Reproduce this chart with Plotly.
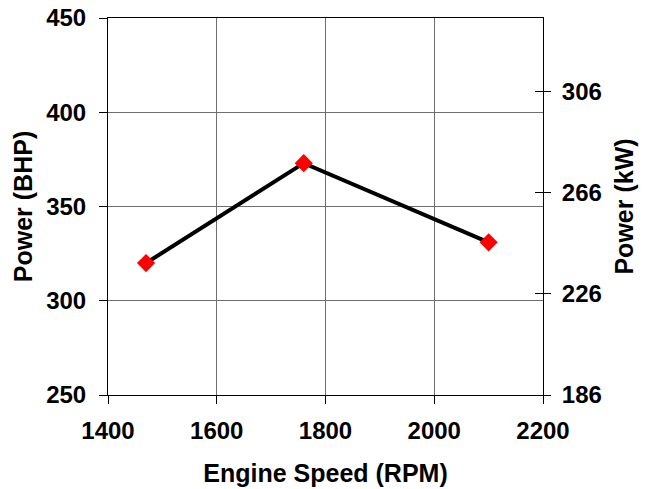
import plotly.graph_objects as go

rpm = [1470, 1760, 2100]
bhp = [320, 373, 331]
x_ticks = [1400, 1600, 1800, 2000, 2200]
bhp_ticks = [250, 300, 350, 400, 450]
kw_labels = ["186", "226", "266", "306"]
BHP_TO_KW = 0.7457

bhp_range = [250, 450]
kw_range = [bhp_range[0] * BHP_TO_KW, bhp_range[1] * BHP_TO_KW]
kw_vals = [kw_range[0] + 40 * i for i in range(len(kw_labels))]

FONT = "Liberation Sans, Arial, sans-serif"
tickfont = dict(family=FONT, size=24, color="black")
titlefont = dict(family=FONT, size=25, color="black")

fig = go.Figure()
fig.add_trace(go.Scatter(
    x=rpm, y=bhp, mode="lines+markers",
    line=dict(color="black", width=4),
    marker=dict(symbol="diamond", size=14, color="#ff0000"),
    showlegend=False, hoverinfo="x+y",
))
fig.add_trace(go.Scatter(x=[rpm[0]], y=[bhp[0] * BHP_TO_KW], yaxis="y2",
                         mode="markers", marker=dict(opacity=0), showlegend=False,
                         hoverinfo="skip"))
fig.add_trace(go.Scatter(x=[rpm[0]], y=[bhp[0] * BHP_TO_KW], yaxis="y3",
                         mode="markers", marker=dict(opacity=0), showlegend=False,
                         hoverinfo="skip"))

grid = "#6e6e6e"
fig.update_layout(
    width=646, height=489,
    margin=dict(l=108, r=103, t=18, b=94),
    paper_bgcolor="white", plot_bgcolor="white",
    xaxis=dict(
        range=[1400, 2200], tickvals=x_ticks, ticktext=[f"<b>{v}</b>" for v in x_ticks],
        showgrid=True, gridcolor=grid, gridwidth=1,
        showline=True, linecolor="black", linewidth=1, mirror=True,
        ticks="outside", ticklen=8, tickcolor="black", ticklabelstandoff=6,
        tickfont=tickfont, zeroline=False, automargin=False,
        title=dict(text="<b>Engine Speed (RPM)</b>", font=titlefont, standoff=21),
    ),
    yaxis=dict(
        range=bhp_range, tickvals=bhp_ticks, ticktext=[f"<b>{v}</b>" for v in bhp_ticks],
        showgrid=True, gridcolor=grid, gridwidth=1,
        showline=True, linecolor="black", linewidth=1, mirror=True,
        ticks="outside", ticklen=8, tickcolor="black", ticklabelstandoff=8,
        tickfont=tickfont, zeroline=False, automargin=False,
        title=dict(text="<b>Power (BHP)</b>", font=titlefont, standoff=6),
    ),
    yaxis2=dict(
        range=kw_range, tickvals=kw_vals, ticktext=[f"<b>{t}</b>" for t in kw_labels],
        overlaying="y", side="right", showgrid=False, zeroline=False,
        showline=False, ticks="outside", ticklen=7, tickcolor="black",
        ticklabelstandoff=6, tickfont=tickfont, automargin=False,
        title=dict(text="<b>Power (kW)</b>", font=titlefont, standoff=14),
    ),
    yaxis3=dict(
        range=kw_range, tickvals=kw_vals, ticktext=["" for _ in kw_labels],
        overlaying="y", side="right", showgrid=False, zeroline=False,
        showline=False, ticks="inside", ticklen=8, tickcolor="black",
        showticklabels=False, automargin=False,
    ),
)

fig.write_html("out.html", config={"displayModeBar": False},
               post_script="document.body.style.margin='0';")
